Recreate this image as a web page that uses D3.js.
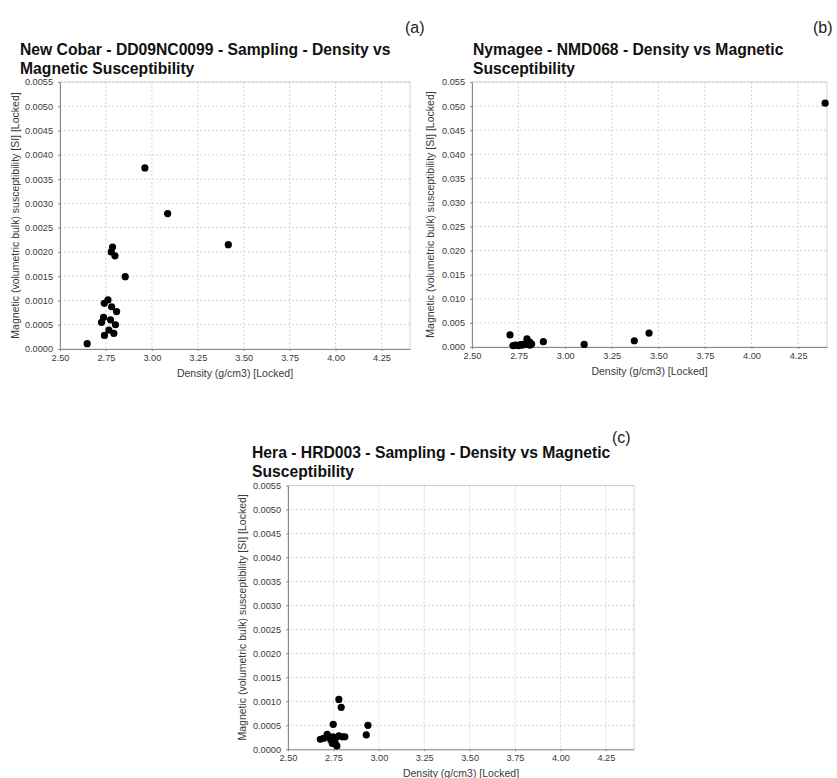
<!DOCTYPE html>
<html>
<head>
<meta charset="utf-8">
<script src="https://cdn.jsdelivr.net/npm/d3@7/dist/d3.min.js"></script>
<style>
  body { margin: 0; background: #fff; }
  text { font-family: "Liberation Sans", Arial, sans-serif; }
</style>
</head>
<body>
<div id="chart"></div>
<script>
// Shared axis ticks.
const densityTicks = [2.5, 2.75, 3.0, 3.25, 3.5, 3.75, 4.0, 4.25];
const densityDomain = [2.5, 4.405];
const suscTicksSmall = [0, 0.0005, 0.001, 0.0015, 0.002, 0.0025, 0.003, 0.0035, 0.004, 0.0045, 0.005, 0.0055];
const suscTicksLarge = [0, 0.005, 0.01, 0.015, 0.02, 0.025, 0.03, 0.035, 0.04, 0.045, 0.05, 0.055];

// (a) New Cobar - DD09NC0099
const densityA = [2.962, 3.086, 3.416, 2.786, 2.779, 2.799, 2.855, 2.761, 2.741, 2.781, 2.808, 2.737, 2.775, 2.726, 2.802, 2.766, 2.742, 2.793, 2.648];
const suscA = [0.00373, 0.00279, 0.00215, 0.0021, 0.002, 0.00192, 0.00149, 0.00101, 0.00094, 0.00087, 0.00077, 0.00065, 0.0006, 0.00055, 0.0005, 0.00039, 0.00028, 0.00032, 0.00011];

// (b) Nymagee - NMD068
const densityB = [2.704, 2.795, 2.72, 2.735, 2.75, 2.76, 2.77, 2.78, 2.79, 2.8, 2.81, 2.82, 2.81, 2.883, 3.102, 3.371, 3.45, 4.395];
const suscB = [0.0025, 0.0017, 0.0003, 0.0004, 0.0003, 0.0005, 0.0004, 0.0006, 0.0005, 0.0007, 0.0004, 0.0006, 0.001, 0.0011, 0.00054, 0.0013, 0.0029, 0.0506];

// (c) Hera - HRD003
const densityC = [2.78, 2.793, 2.749, 2.94, 2.931, 2.678, 2.696, 2.716, 2.729, 2.747, 2.762, 2.78, 2.799, 2.813, 2.762, 2.769, 2.744, 2.735];
const suscC = [0.00104, 0.000875, 0.00052, 0.0005, 0.0003, 0.00021, 0.00023, 0.00031, 0.00025, 0.00026, 0.00023, 0.00028, 0.00026, 0.00026, 0.00011, 0.00007, 0.000125, 0.0002];

const xLabel = "Density (g/cm3) [Locked]";
const yLabel = "Magnetic (volumetric bulk) susceptibility [SI] [Locked]";

const panels = [
  {
    tag: "(a)", title: ["New Cobar - DD09NC0099 - Sampling - Density vs", "Magnetic Susceptibility"],
    x: densityA, y: suscA, yTicks: suscTicksSmall, fmt: ".4f",
    left: 60, top: 82, right: 410, bottom: 349,
    titleX: 20, titleY: 55, yLabelX: 15, tagX: 405, tagY: 33,
  },
  {
    tag: "(b)", title: ["Nymagee - NMD068 - Density vs Magnetic", "Susceptibility"],
    x: densityB, y: suscB, yTicks: suscTicksLarge, fmt: ".3f",
    left: 472, top: 82, right: 827, bottom: 347,
    titleX: 473, titleY: 55, yLabelX: 430, tagX: 813, tagY: 33,
  },
  {
    tag: "(c)", title: ["Hera - HRD003 - Sampling - Density vs Magnetic", "Susceptibility"],
    x: densityC, y: suscC, yTicks: suscTicksSmall, fmt: ".4f",
    left: 288, top: 485.5, right: 634, bottom: 749.3,
    titleX: 252, titleY: 458, yLabelX: 242, tagX: 612, tagY: 443,
  },
];

const width = 837;
const height = 778;

const svg = d3.select("#chart").append("svg")
  .attr("width", width)
  .attr("height", height);

panels.forEach((p) => {
  const g = svg.append("g");

  const x = d3.scaleLinear().domain(densityDomain).range([p.left, p.right]);
  const y = d3.scaleLinear()
    .domain([0, p.yTicks[p.yTicks.length - 1]])
    .range([p.bottom, p.top]);

  // Title and panel tag.
  g.append("text")
    .attr("x", p.titleX)
    .attr("y", p.titleY)
    .attr("font-size", 15.7)
    .attr("font-weight", "bold")
    .attr("fill", "#111")
    .selectAll("tspan")
    .data(p.title)
    .join("tspan")
    .attr("x", p.titleX)
    .attr("dy", (d, i) => (i === 0 ? 0 : 18.5))
    .text((d) => d);

  g.append("text")
    .attr("x", p.tagX)
    .attr("y", p.tagY)
    .attr("font-size", 16)
    .attr("fill", "#222")
    .text(p.tag);

  // Plot background, grid and border.
  g.append("rect")
    .attr("x", p.left).attr("y", p.top)
    .attr("width", p.right - p.left).attr("height", p.bottom - p.top)
    .attr("fill", "#fff");

  const grid = g.append("g")
    .attr("stroke", "#cfcfcf")
    .attr("stroke-width", 0.9)
    .attr("stroke-dasharray", "2,2");

  grid.selectAll(".vx")
    .data(densityTicks.slice(1))
    .join("line")
    .attr("x1", (d) => x(d)).attr("x2", (d) => x(d))
    .attr("y1", p.top).attr("y2", p.bottom);

  grid.selectAll(".hy")
    .data(p.yTicks.slice(1))
    .join("line")
    .attr("x1", p.left).attr("x2", p.right)
    .attr("y1", (d) => y(d)).attr("y2", (d) => y(d));

  g.append("rect")
    .attr("x", p.left).attr("y", p.top)
    .attr("width", p.right - p.left).attr("height", p.bottom - p.top)
    .attr("fill", "none")
    .attr("stroke", "#c8c8c8")
    .attr("stroke-width", 0.8);

  // Axes.
  const xAxis = g.append("g")
    .attr("transform", `translate(0,${p.bottom})`)
    .call(d3.axisBottom(x).tickValues(densityTicks).tickFormat(d3.format(".2f"))
      .tickSize(2).tickSizeOuter(0).tickPadding(3.5));

  const yAxis = g.append("g")
    .attr("transform", `translate(${p.left},0)`)
    .call(d3.axisLeft(y).tickValues(p.yTicks).tickFormat(d3.format(p.fmt))
      .tickSize(2).tickSizeOuter(0).tickPadding(5));

  [xAxis, yAxis].forEach((a) => {
    a.select(".domain").attr("stroke", "#8a8a8a");
    a.selectAll(".tick line").attr("stroke", "#8a8a8a");
    a.selectAll(".tick text")
      .attr("font-size", 9.2)
      .attr("font-family", "\"Liberation Sans\", Arial, sans-serif")
      .attr("fill", "#3a3a3a");
  });

  // Axis labels.
  g.append("text")
    .attr("x", (p.left + p.right) / 2)
    .attr("y", p.bottom + 28)
    .attr("text-anchor", "middle")
    .attr("font-size", 10.5)
    .attr("fill", "#3a3a3a")
    .text(xLabel);

  g.append("text")
    .attr("transform", `translate(${p.yLabelX + 3.5},${(p.top + p.bottom) / 2}) rotate(-90)`)
    .attr("text-anchor", "middle")
    .attr("font-size", 10.5)
    .attr("fill", "#3a3a3a")
    .text(yLabel);

  // Points.
  g.append("g")
    .selectAll("circle")
    .data(p.x.map((d, i) => [d, p.y[i]]))
    .join("circle")
    .attr("cx", (d) => x(d[0]))
    .attr("cy", (d) => y(d[1]))
    .attr("r", 3.6)
    .attr("fill", "#000");
});
</script>
</body>
</html>
